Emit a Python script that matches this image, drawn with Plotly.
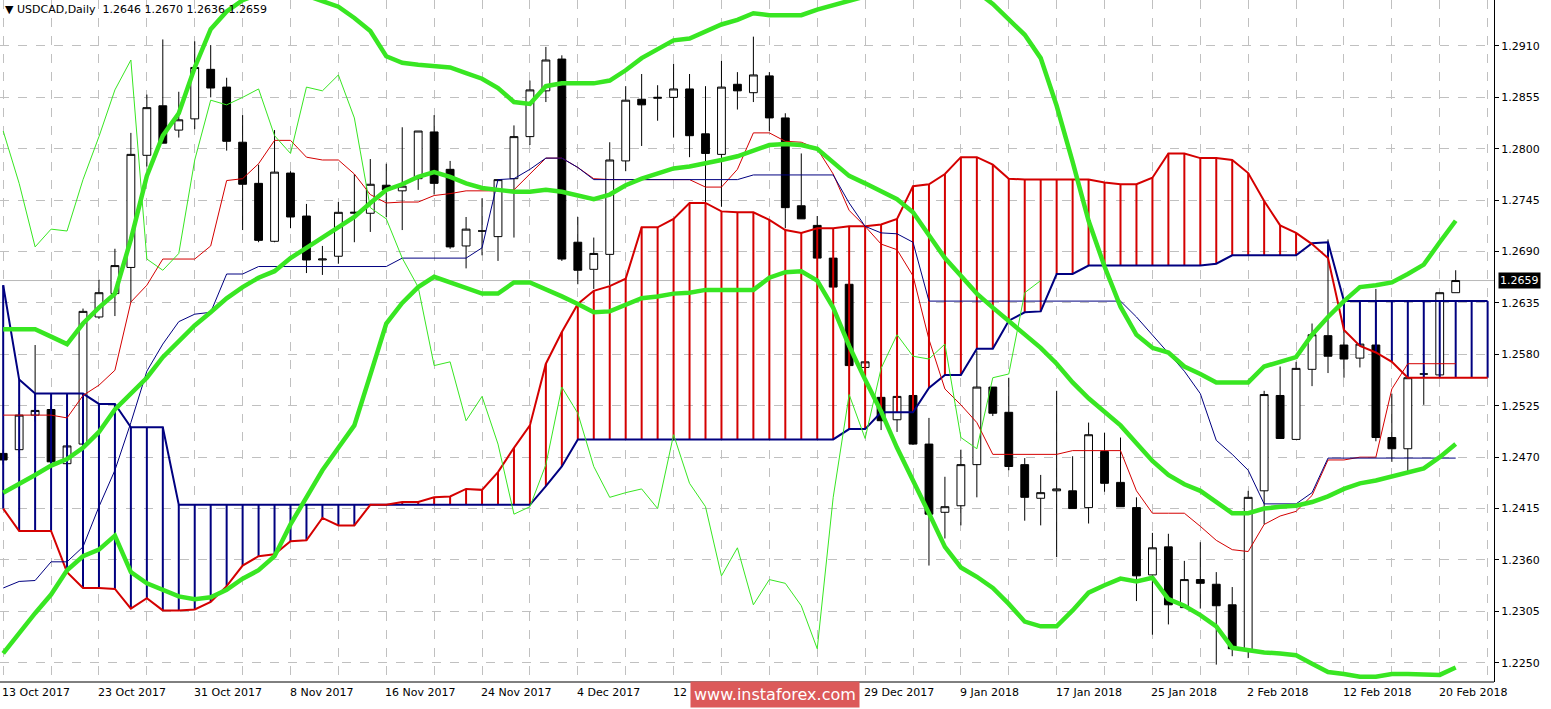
import plotly.graph_objects as go

tick_labels = ["13 Oct 2017","23 Oct 2017","31 Oct 2017","8 Nov 2017","16 Nov 2017","24 Nov 2017",
               "4 Dec 2017","12 Dec 2017","20 Dec 2017","29 Dec 2017","9 Jan 2018","17 Jan 2018",
               "25 Jan 2018","2 Feb 2018","12 Feb 2018","20 Feb 2018"]
tick_index = [0,6,12,18,24,30,36,42,48,54,60,66,72,78,84,90]

opens = [1.2474,1.2478,1.2515,1.2521,1.2463,1.2484,1.2620,1.2645,1.2673,1.2793,1.2846,1.2820,1.2832,1.2885,1.2866,1.2807,1.2763,
         1.2701,1.2774,1.2728,1.2681,1.2685,1.2731,1.2731,1.2761,1.2755,1.2768,1.2818,1.2778,1.2696,1.2712,1.2706,
         1.2768,1.2813,1.2862,1.2896,1.2700,1.2671,1.2687,1.2787,1.2853,1.2854,1.2855,1.2864,1.2816,1.2794,1.2869,1.2860,
         1.2878,1.2833,1.2739,1.2718,1.2683,1.2655,1.2566,1.2534,1.2510,1.2536,1.2484,1.2411,1.2418,1.2462,1.2545,1.2518,
         1.2462,1.2426,1.2434,1.2434,1.2416,1.2476,1.2443,1.2416,1.2344,1.2374,1.2309,1.2339,1.2334,1.2312,1.2263,
         1.2434,1.2536,1.2489,1.2564,1.2600,1.2590,1.2576,1.2590,1.2491,1.2479,1.2559,1.2558,1.2646]
highs = [1.2478,1.2518,1.2590,1.2525,1.2485,1.2629,1.2660,1.2693,1.2817,1.2858,1.2917,1.2861,1.2915,1.2911,1.2876,1.2836,1.2783,
         1.2820,1.2776,1.2741,1.2696,1.2743,1.2773,1.2789,1.2784,1.2823,1.2819,1.2836,1.2787,1.2727,1.2747,1.2767,
         1.2825,1.2873,1.2909,1.2900,1.2727,1.2705,1.2807,1.2867,1.2880,1.2868,1.2891,1.2880,1.2867,1.2894,1.2882,1.2920,
         1.2882,1.2838,1.2795,1.2728,1.2683,1.2655,1.2572,1.2539,1.2535,1.2536,1.2512,1.2449,1.2478,1.2584,1.2545,1.2555,
         1.2469,1.2451,1.2541,1.2471,1.2507,1.2496,1.2491,1.2427,1.2389,1.2388,1.2359,1.2379,1.2347,1.2331,1.2434,
         1.2541,1.2567,1.2572,1.2613,1.2703,1.2625,1.2591,1.2650,1.2538,1.2555,1.2567,1.2646,1.2670]
lows = [1.2462,1.2475,1.2508,1.2462,1.2460,1.2482,1.2618,1.2621,1.2636,1.2781,1.2806,1.2812,1.2821,1.2855,1.2798,1.2713,1.2700,
        1.2700,1.2715,1.2667,1.2665,1.2677,1.2700,1.2711,1.2727,1.2713,1.2756,1.2751,1.2693,1.2672,1.2686,1.2680,
        1.2705,1.2804,1.2850,1.2680,1.2655,1.2650,1.2654,1.2776,1.2803,1.2830,1.2812,1.2791,1.2742,1.2738,1.2842,1.2850,
        1.2819,1.2715,1.2725,1.2683,1.2652,1.2567,1.2566,1.2499,1.2497,1.2483,1.2354,1.2383,1.2397,1.2427,1.2514,1.2456,
        1.2402,1.2397,1.2363,1.2415,1.2399,1.2433,1.2417,1.2316,1.2280,1.2291,1.2309,1.2308,1.2248,1.2257,1.2255,
        1.2398,1.2490,1.2489,1.2546,1.2560,1.2555,1.2566,1.2487,1.2465,1.2454,1.2526,1.2558,1.2646]
closes = [1.2467,1.2515,1.2520,1.2465,1.2482,1.2626,1.2646,1.2675,1.2794,1.2844,1.2806,1.2831,1.2887,1.2865,1.2808,1.2762,1.2702,
          1.2775,1.2727,1.2681,1.2682,1.2732,1.2732,1.2762,1.2756,1.2760,1.2819,1.2763,1.2695,1.2714,1.2712,1.2767,
          1.2813,1.2863,1.2895,1.2682,1.2670,1.2688,1.2788,1.2852,1.2847,1.2855,1.2864,1.2814,1.2795,1.2866,1.2862,1.2879,
          1.2833,1.2737,1.2725,1.2683,1.2652,1.2568,1.2572,1.2509,1.2535,1.2484,1.2409,1.2417,1.2462,1.2545,1.2517,1.2460,
          1.2427,1.2432,1.2436,1.2415,1.2494,1.2442,1.2417,1.2343,1.2373,1.2312,1.2339,1.2335,1.2311,1.2265,1.2427,
          1.2537,1.2490,1.2565,1.2601,1.2578,1.2575,1.2591,1.2491,1.2479,1.2555,1.2559,1.2646,1.2659]

senkou_a = [1.2415,1.2391,1.2391,1.2391,1.2347,1.2330,1.2330,1.2329,1.2308,1.2319,1.2306,1.2306,1.2307,1.2315,1.2332,1.2354,
            1.2364,1.2366,1.2380,1.2381,1.2405,1.2397,1.2397,1.2419,1.2419,1.2422,1.2422,1.2427,1.2428,1.2436,1.2435,1.2454,
            1.2480,1.2504,1.2570,1.2604,1.2634,1.2648,1.2653,1.2661,1.2716,1.2716,1.2725,1.2742,1.2742,1.2733,1.2732,1.2732,
            1.2724,1.2713,1.2710,1.2715,1.2715,1.2717,1.2717,1.2719,1.2725,1.2760,1.2762,1.2773,1.2791,1.2791,1.2783,1.2768,
            1.2767,1.2767,1.2767,1.2767,1.2767,1.2764,1.2762,1.2762,1.2769,1.2795,1.2795,1.2790,1.2790,1.2788,1.2774,
            1.2744,1.2718,1.2710,1.2698,1.2683,1.2606,1.2589,1.2582,1.2572] + [1.2555]*6
senkou_b = ([1.2654,1.2553,1.2538,1.2538,1.2538,1.2538,1.2527,1.2527,1.2502,1.2502,1.2502] + [1.2419]*23 +
            [1.2439,1.2460] + [1.2489]*17 +
            [1.2500,1.2500,1.2518,1.2518,1.2518,1.2544,1.2558,1.2558,1.2586,1.2586,1.2616,1.2625,1.2626,1.2666,1.2666,
             1.2675,1.2675,1.2675,1.2675,1.2675,1.2675,1.2675,1.2675,1.2677,1.2686,1.2686,1.2686,1.2686,1.2686,
             1.2699,1.2700] + [1.2637]*10)
tenkan = [1.2515,1.2515,1.2515,1.2515,1.2512,1.2536,1.2547,1.2563,1.2636,1.2654,1.2682,1.2682,1.2682,1.2696,1.2766,1.2768,
          1.2784,1.2809,1.2809,1.2791,1.2788,1.2788,1.2773,1.2751,1.2742,1.2743,1.2743,1.2750,1.2752,1.2755,1.2755,1.2755,
          1.2756,1.2773,1.2790,1.2790,1.2780,1.2768,1.2767,1.2767,1.2767,1.2767,1.2767,1.2767,1.2759,1.2759,1.2778,1.2817,
          1.2817,1.2808,1.2807,1.2800,1.2773,1.2734,1.2717,1.2698,1.2692,1.2664,1.2596,1.2543,1.2526,1.2507,1.2473,1.2473,
          1.2473,1.2473,1.2473,1.2477,1.2477,1.2477,1.2477,1.2434,1.2410,1.2410,1.2410,1.2396,1.2381,1.2371,1.2369,
          1.2398,1.2407,1.2412,1.2429,1.2467,1.2467,1.2470,1.2470,1.2543,1.2570,1.2570,1.2570,1.2570]
kijun = ([1.2330,1.2337,1.2338,1.2358,1.2358,1.2374,1.2417,1.2456,1.2507,1.2562,1.2591,1.2615,1.2623,1.2625,1.2666,1.2666] +
         [1.2674]*9 + [1.2683]*5 + [1.2694,1.2767,1.2768,1.2778,1.2790,1.2790,1.2780] + [1.2767]*10 + [1.2772]*6 +
         [1.2742,1.2717,1.2710,1.2709,1.2700] + [1.2637]*13 +
         [1.2620,1.2601,1.2582,1.2562,1.2538,1.2488,1.2473,1.2456,1.2420,1.2420,1.2420,1.2432] + [1.2469]*9)
bb_upper = [1.2607,1.2607,1.2607,1.2599,1.2591,1.2613,1.2630,1.2645,1.2703,1.2771,1.2814,1.2838,1.2887,1.2928,1.2947,1.2959,
            1.2966,1.2972,1.2972,1.2964,1.2958,1.2952,1.2940,1.2926,1.2899,1.2892,1.2890,1.2888,1.2887,1.2881,1.2875,1.2865,
            1.2850,1.2848,1.2867,1.2870,1.2870,1.2870,1.2873,1.2884,1.2897,1.2906,1.2916,1.2918,1.2925,1.2933,1.2938,1.2945,
            1.2943,1.2943,1.2943,1.2949,1.2954,1.2959,1.2963,1.2970,1.2978,1.2985,1.2988,1.2985,1.2976,1.2968,1.2955,1.2939,
            1.2922,1.2897,1.2846,1.2786,1.2723,1.2674,1.2631,1.2601,1.2587,1.2582,1.2567,1.2559,1.2550,1.2550,1.2550,
            1.2567,1.2572,1.2577,1.2601,1.2620,1.2637,1.2652,1.2654,1.2657,1.2666,1.2676,1.2700,1.2723]
bb_middle = [1.2432,1.2441,1.2451,1.2461,1.2468,1.2480,1.2497,1.2521,1.2538,1.2555,1.2577,1.2594,1.2611,1.2625,1.2640,1.2652,
             1.2662,1.2669,1.2683,1.2694,1.2705,1.2715,1.2727,1.2742,1.2756,1.2762,1.2770,1.2775,1.2770,1.2763,1.2758,1.2756,
             1.2754,1.2754,1.2756,1.2754,1.2750,1.2746,1.2751,1.2761,1.2768,1.2773,1.2779,1.2781,1.2784,1.2788,1.2792,1.2798,
             1.2804,1.2805,1.2804,1.2800,1.2785,1.2771,1.2763,1.2754,1.2746,1.2732,1.2708,1.2683,1.2664,1.2645,1.2630,1.2616,
             1.2601,1.2587,1.2570,1.2550,1.2533,1.2519,1.2504,1.2485,1.2466,1.2451,1.2441,1.2434,1.2422,1.2410,1.2410,
             1.2415,1.2417,1.2418,1.2422,1.2428,1.2436,1.2442,1.2445,1.2449,1.2454,1.2458,1.2470,1.2484]
bb_lower = [1.2260,1.2282,1.2303,1.2323,1.2349,1.2364,1.2371,1.2386,1.2347,1.2335,1.2328,1.2321,1.2318,1.2320,1.2328,1.2340,
            1.2349,1.2364,1.2398,1.2427,1.2456,1.2480,1.2504,1.2558,1.2613,1.2635,1.2652,1.2663,1.2657,1.2650,1.2645,1.2645,
            1.2657,1.2657,1.2650,1.2642,1.2634,1.2625,1.2626,1.2633,1.2640,1.2642,1.2645,1.2646,1.2649,1.2649,1.2649,1.2649,
            1.2662,1.2668,1.2669,1.2659,1.2630,1.2589,1.2553,1.2519,1.2480,1.2446,1.2410,1.2374,1.2352,1.2342,1.2330,1.2313,
            1.2294,1.2289,1.2289,1.2306,1.2325,1.2333,1.2340,1.2337,1.2341,1.2318,1.2311,1.2301,1.2289,1.2266,1.2263,
            1.2261,1.2260,1.2258,1.2249,1.2240,1.2238,1.2235,1.2235,1.2238,1.2238,1.2238,1.2237,1.2245]
chikou_shift = 26
last_price = 1.2659

n = len(closes)
xs = list(range(n))
xc = list(range(len(senkou_a)))
RED = "#d40000"
NAVY = "#000080"
GREEN = "#38e622"

fig = go.Figure()
for color, cond in ((RED, lambda a, b: a > b), (NAVY, lambda a, b: b >= a)):
    hx, hy = [], []
    for i, (a, b) in enumerate(zip(senkou_a, senkou_b)):
        if cond(a, b) and abs(a - b) > 0.00005:
            hx += [i, i, None]
            hy += [a, b, None]
    fig.add_trace(go.Scatter(x=hx, y=hy, mode="lines", line=dict(color=color, width=2), hoverinfo="skip"))

fig.add_trace(go.Candlestick(x=xs, open=opens, high=highs, low=lows, close=closes,
                             increasing=dict(line=dict(color="black", width=1), fillcolor="white"),
                             decreasing=dict(line=dict(color="black", width=1), fillcolor="black"),
                             whiskerwidth=0))
fig.add_trace(go.Scatter(x=xc, y=senkou_b, mode="lines", line=dict(color=NAVY, width=2)))
fig.add_trace(go.Scatter(x=xc, y=senkou_a, mode="lines", line=dict(color=RED, width=2)))
fig.add_trace(go.Scatter(x=xs, y=tenkan, mode="lines", line=dict(color=RED, width=1)))
fig.add_trace(go.Scatter(x=xs, y=kijun, mode="lines", line=dict(color=NAVY, width=1)))
fig.add_trace(go.Scatter(x=xs[:n - chikou_shift], y=closes[chikou_shift:], mode="lines",
                         line=dict(color=GREEN, width=1)))
for band in (bb_upper, bb_middle, bb_lower):
    fig.add_trace(go.Scatter(x=xs, y=band, mode="lines", line=dict(color=GREEN, width=4.5)))

fig.add_hline(y=last_price, line=dict(color="#b8b8b8", width=1), layer="below")

ann = []
for t, i in zip(tick_labels, tick_index):
    ann.append(dict(x=i, y=-0.003, xref="x", yref="paper", text=t, showarrow=False, xanchor="left",
                    yanchor="top", xshift=-3, font=dict(size=11, color="black")))
ann.append(dict(x=0.002, y=0.998, xref="paper", yref="paper", text="▼ USDCAD,Daily  1.2646 1.2670 1.2636 1.2659",
                showarrow=False, xanchor="left", yanchor="top", font=dict(size=11, color="black")))
ann.append(dict(x=1, y=last_price, xref="paper", yref="y", text="1.2659", showarrow=False, xanchor="left",
                bgcolor="black", font=dict(size=11, color="white"), xshift=4, borderpad=1))
ann.append(dict(x=0.5187, y=-0.019, xref="paper", yref="paper", text="www.instaforex.com", showarrow=False,
                xanchor="center", yanchor="middle", bgcolor="#dc5a5a", font=dict(size=16, color="white"),
                borderpad=3))

fig.update_layout(
    width=1551, height=709, margin=dict(l=0, r=57, t=0, b=27),
    paper_bgcolor="white", plot_bgcolor="white", showlegend=False,
    font=dict(family="DejaVu Sans", size=11, color="black"),
    annotations=ann,
    xaxis=dict(range=[-0.2, 93.4], tickvals=list(range(0, 94, 3)), showticklabels=False,
               showgrid=True, gridcolor="#c0c0c0", griddash="dash", gridwidth=1, automargin=False,
               zeroline=False, rangeslider=dict(visible=False), showline=False, fixedrange=True),
    yaxis=dict(side="right", range=[1.22294, 1.29592], tickvals=[1.2250 + 0.0055 * k for k in range(13)],
               tickformat=".4f", ticks="outside", ticklen=4, tickcolor="black", automargin=False,
               showgrid=True, gridcolor="#c0c0c0", griddash="dash", zeroline=False,
               showline=True, linecolor="black", linewidth=1, mirror=False),
)
fig.add_shape(type="line", xref="paper", yref="paper", x0=0, x1=1, y0=0, y1=0, line=dict(color="black", width=1))
fig.write_html("out.html", config={"displayModeBar": False},
               post_script="document.body.style.margin='0px';document.body.style.overflow='hidden';")
